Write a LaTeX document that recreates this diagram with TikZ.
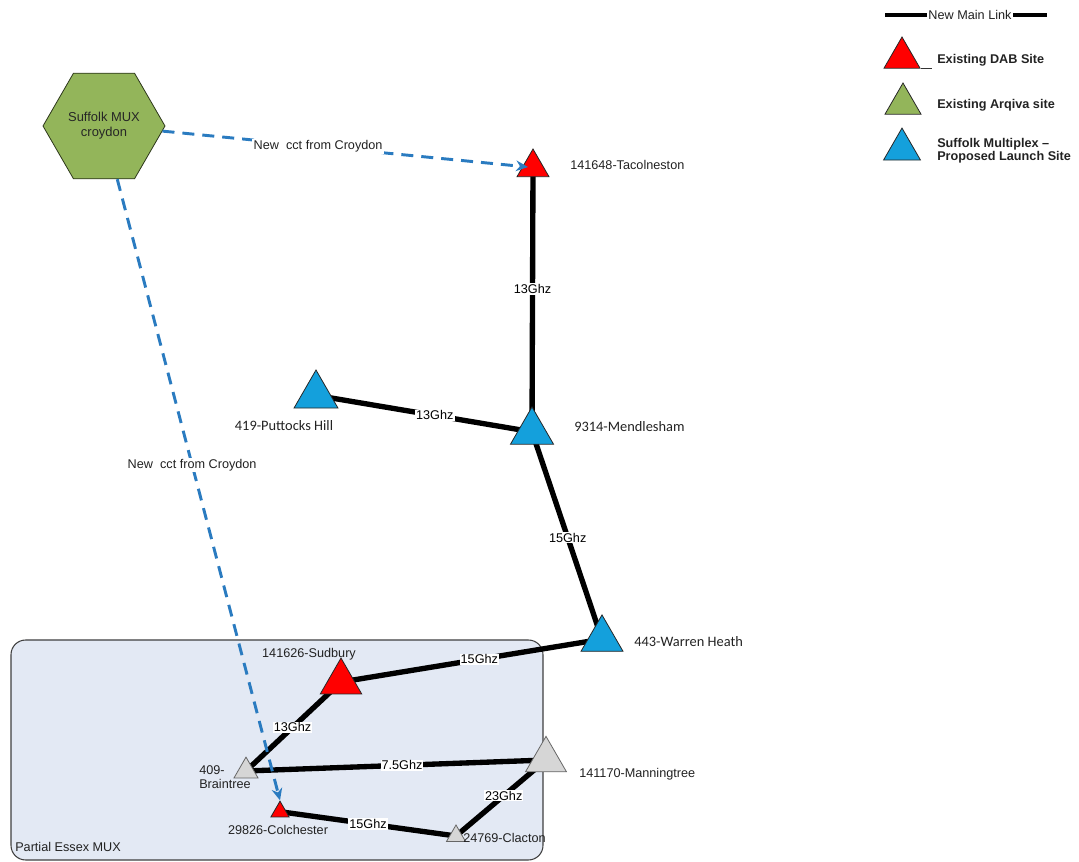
\documentclass[tikz,border=0pt]{standalone}
\usepackage{fontspec}
\setmainfont{Liberation Sans}
\newfontfamily\calfont{Carlito}
\usetikzlibrary{shapes.geometric,arrows.meta,backgrounds}
\definecolor{dabred}{HTML}{FF0000}
\definecolor{sitblue}{HTML}{14A0DC}
\definecolor{arqgreen}{HTML}{93B55A}
\definecolor{greytri}{HTML}{D6D6D6}
\definecolor{essexbg}{HTML}{E3E9F4}
\definecolor{cctblue}{HTML}{2A7BC0}
\definecolor{txt}{HTML}{222222}
\begin{document}
\begin{tikzpicture}[x=0.75pt,y=-0.75pt,
  font=\fontsize{9.5}{10.5}\selectfont, text=txt,
  tri/.style={regular polygon, regular polygon sides=3, inner sep=0pt,
    draw=black!85, line width=0.6pt, minimum size=#1},
  redtri/.style={tri=#1, fill=dabred},
  bluetri/.style={tri=#1, fill=sitblue},
  greytri/.style={tri=#1, fill=greytri, draw=black!60},
  greentri/.style={tri=#1, fill=arqgreen},
  link/.style={line width=4pt, black},
  freq/.style={fill=white, inner sep=0.8pt, text=black},
  cct/.style={cctblue, line width=2.2pt, dash pattern=on 9pt off 6pt,
    -{Stealth[length=9pt,width=8pt]}},
  cctlbl/.style={fill=white, inner sep=1pt, text=txt},
  lbl/.style={inner sep=0pt},
  callbl/.style={inner sep=0pt, font=\calfont\fontsize{10.8}{12}\selectfont},
  legtxt/.style={inner sep=0pt, anchor=west, align=left,
    font=\bfseries\fontsize{9.5}{10}\selectfont}
]
\useasboundingbox (0,0) rectangle (1079,862);

% hexagon
\node[regular polygon, regular polygon sides=6, minimum size=91.5pt, inner sep=0pt,
  fill=arqgreen, draw=black!70!arqgreen, line width=0.6pt] (hex) at (104,126) {};
\node[align=center, font=\fontsize{9.7}{11.2}\selectfont, text=black!85] (hextxt) at (104,126) {Suffolk MUX\\croydon};

% sites
\node[redtri=27.75pt] (tac) at (533,167.5) {};
\node[bluetri=37.3pt] (mend) at (532,431.8) {};
\node[bluetri=38.1pt] (putt) at (316,395.4) {};
\node[bluetri=36.4pt] (warren) at (602,639.2) {};
\node[redtri=35.9pt] (sud) at (341,682) {};
\node[greytri=20.8pt] (brain) at (246,771) {};
\node[greytri=35.5pt] (mann) at (546,760) {};
\node[redtri=15.8pt] (colch) at (280,811.7) {};
\node[greytri=16.5pt] (clac) at (456,836) {};

% site labels
\node[lbl, anchor=west] (tacl) at (570,165) {141648-Tacolneston};
\node[callbl, anchor=west] (mendl) at (574,427) {9314-Mendlesham};
\node[callbl] (puttl) at (284,426) {419-Puttocks Hill};
\node[callbl, anchor=west] (warrenl) at (634,642) {443-Warren Heath};
\node[lbl] (sudl) at (309,654) {141626-Sudbury};
\node[lbl, anchor=west, align=left, font=\fontsize{9.5}{10.5}\selectfont] (brainl) at (199,777) {409-\\Braintree};
\node[lbl, anchor=west] (mannl) at (579,774) {141170-Manningtree};
\node[lbl] (colchl) at (278,830) {29826-Colchester};
\node[lbl, anchor=west] (clacl) at (463,838) {24769-Clacton};

% Essex box and links on background
\begin{scope}[on background layer]
  \draw[fill=essexbg, draw=black!75, line width=0.8pt, rounded corners=11pt]
    (11,640) rectangle (543,860);
  \node[lbl, anchor=west] (essexl) at (15,847) {Partial Essex MUX};
\end{scope}
\begin{scope}[on background layer]
  \draw[link] (tac.center) -- node[freq, pos=0.46] {13Ghz} (mend.center);
  \draw[link] (putt.center) -- node[freq, pos=0.55] {13Ghz} (mend.center);
  \draw[link] (mend.center) -- node[freq, pos=0.51] {15Ghz} (warren.center);
  \draw[link] (sud.center) -- node[freq, pos=0.53] {15Ghz} (warren.center);
  \draw[link] (sud.center) -- node[freq, pos=0.51] {13Ghz} (brain.center);
  \draw[link] (brain.center) -- node[freq, pos=0.52] {7.5Ghz} (mann.center);
  \draw[link] (colch.center) -- node[freq, pos=0.5] {15Ghz} (clac.center);
  \draw[link] (clac.center) -- node[freq, pos=0.53] {23Ghz} (mann.center);
\end{scope}

% circuits from Croydon
\draw[cct, shorten >=3.75pt] (hex.-5) -- node[cctlbl, pos=0.42] {New\ \ cct from Croydon} (tac.center);
\draw[cct] (hex.-76) -- node[cctlbl, pos=0.46] {New\ \ cct from Croydon} (colch.north);

% legend
\coordinate (lgA) at (885,15);
\coordinate (lgB) at (1047,15);
\draw[line width=3.5pt, black] (lgA) -- (lgB);
\node[fill=white, inner sep=1pt] (lgtxt) at (970,15) {New Main Link};
\node[redtri=31.2pt] (legred) at (902,57.8) {};
\draw[black!80, line width=1pt] (legred.corner 3) -- ++(11,0);
\node[greentri=31.2pt] (leggreen) at (903,103.8) {};
\node[bluetri=32pt] (legblue) at (902,149.4) {};
\node[legtxt] (legredt) at (937,60) {Existing DAB Site};
\node[legtxt] (leggreent) at (937,105) {Existing Arqiva site};
\node[legtxt] (legbluet) at (937,151) {Suffolk Multiplex --\\Proposed Launch Site};
\end{tikzpicture}
\end{document}
